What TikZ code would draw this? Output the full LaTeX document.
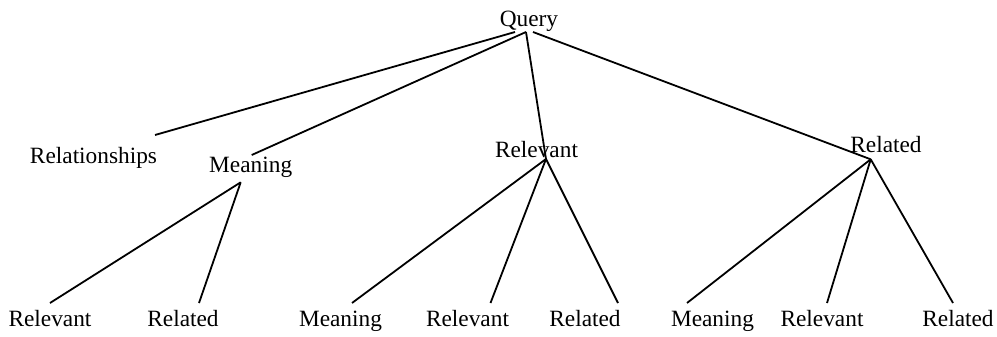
\documentclass[tikz,border=0pt]{standalone}
\usepackage{fontspec}
\setmainfont{Liberation Serif}

\begin{document}
\begin{tikzpicture}
[x=0.75pt,y=-0.75pt,%
  termdecorate/.style={anchor=base,inner sep=0pt,font=\fontsize{17.5}{20}\selectfont},%
  linedecorate/.style={-,line width=1.35pt}]
\useasboundingbox (0,0) rectangle (997,336);
%% nodes or terms
\foreach \nodename/\x/\y/\txt in {query/529/26/Query,
  relsh/93.5/163/Relationships, mean/250.7/172.7/Meaning,
  relv/536.5/157.3/Relevant, reld/886/152.7/Related,
  rv1/50/326.5/Relevant, rd1/183/326.5/Related,
  mn2/340.5/326.5/Meaning, rv2/467.5/326.5/Relevant, rd2/585/326.5/Related,
  mn3/712.5/326.5/Meaning, rv3/822/326.5/Relevant, rd3/958/326.5/Related} {
  \node (\nodename) at (\x,\y) [termdecorate] {\txt};
}
%% edges or lines
\path
\foreach \startnode/\ax/\ay/\endnode/\bx/\by in {query/-14/6/relsh/61.5/-28,
  query/-3/6/mean/1/-17.7, query/-3/6/relv/9.5/1.7, query/4/6/reld/-15.3/6.6,
  mean/-10/9.6/rv1/0/-23.5, mean/-10/9.6/rd1/16/-23.5,
  relv/9.5/1.7/mn2/11.5/-23.5, relv/9.5/1.7/rv2/23/-23.5,
  relv/9.5/1.7/rd2/33/-23.5,
  reld/-15.3/6.6/mn3/-25.5/-23.5, reld/-15.3/6.6/rv3/5/-23.5,
  reld/-15.3/6.6/rd3/-5/-23.5}
{
  ([shift={(\ax,\ay)}]\startnode.base) edge[linedecorate] ([shift={(\bx,\by)}]\endnode.base)
};
\end{tikzpicture}
\end{document}
